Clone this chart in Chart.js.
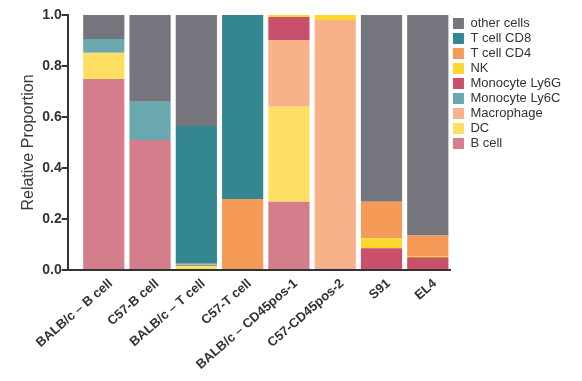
<!DOCTYPE html>
<html><head><meta charset="utf-8">
<script src="https://cdn.jsdelivr.net/npm/chart.js@4/dist/chart.umd.min.js"></script>
<style>html,body{margin:0;padding:0;background:#fff}#wrap{width:582px;height:381px}</style>
</head><body><div id="wrap"><canvas id="c" width="582" height="381"></canvas></div>
<script>
const categories = ["BALB/c – B cell","C57-B cell","BALB/c – T cell","C57-T cell","BALB/c – CD45pos-1","C57-CD45pos-2","S91","EL4"];
const bCell      = [0.749,0.510,0.000,0.000,0.268,0.006,0.000,0.000];
const dc         = [0.103,0.000,0.015,0.000,0.372,0.000,0.000,0.000];
const macrophage = [0.000,0.000,0.000,0.000,0.262,0.974,0.000,0.000];
const ly6c       = [0.054,0.150,0.006,0.000,0.000,0.000,0.000,0.000];
const ly6g       = [0.000,0.000,0.000,0.000,0.090,0.000,0.085,0.050];
const nk         = [0.000,0.000,0.000,0.000,0.008,0.020,0.040,0.005];
const cd4        = [0.000,0.000,0.004,0.278,0.000,0.000,0.143,0.080];
const cd8        = [0.000,0.000,0.540,0.722,0.000,0.000,0.000,0.000];
const other      = [0.094,0.340,0.435,0.000,0.000,0.000,0.732,0.865];
const yTicks = [0,0.2,0.4,0.6,0.8,1.0];

const series = [
  ["B cell", bCell, "#d47d8b"],
  ["DC", dc, "#fde063"],
  ["Macrophage", macrophage, "#f8b188"],
  ["Monocyte Ly6C", ly6c, "#68a8ae"],
  ["Monocyte Ly6G", ly6g, "#c8506a"],
  ["NK", nk, "#fcd82e"],
  ["T cell CD4", cd4, "#f69a58"],
  ["T cell CD8", cd8, "#348791"],
  ["other cells", other, "#75767d"]
];
const datasets = series.map(([label, vals, color]) => ({
  label, backgroundColor: color, borderWidth: 0,
  data: vals.map((v, i) => ({x: i, y: v})),
  barPercentage: 0.89, categoryPercentage: 1.0
}));
const font = "'Liberation Sans', Arial, sans-serif";
new Chart(document.getElementById('c'), {
  type: 'bar',
  data: { datasets },
  options: {
    responsive: false, animation: false,
    layout: { padding: { top: 15, right: 11, left: 19, bottom: 0 } },
    plugins: {
      tooltip: { enabled: false },
      legend: {
        position: 'right', align: 'start', reverse: true,
        labels: { boxWidth: 11, boxHeight: 11, padding: 2, color: '#333',
          font: { family: font, size: 13 } }
      }
    },
    scales: {
      x: {
        type: 'linear', stacked: true, min: -0.78, max: 7.5, offset: false,
        grid: { display: false, drawTicks: false },
        border: { display: true, color: '#333', width: 2 },
        afterFit: s => { s.height = 111; },
        ticks: {
          stepSize: 1, includeBounds: false, autoSkip: false, padding: 6, labelOffset: 7,
          maxRotation: 41, minRotation: 41, color: '#333',
          font: { family: font, size: 13, weight: 'bold' },
          callback: v => Number.isInteger(v) && categories[v] !== undefined ? categories[v] : ''
        }
      },
      y: {
        stacked: true, min: 0, max: 1,
        afterBuildTicks: s => { s.ticks = yTicks.map(v => ({value: v})); },
        grid: { display: true, drawOnChartArea: false, drawTicks: true, tickLength: 6, color: '#333', lineWidth: 2 },
        border: { display: true, color: '#333', width: 2 },
        ticks: { color: '#333', padding: 0, font: { family: font, size: 14, weight: 'bold' },
          callback: v => Number(v).toFixed(1) },
        title: { display: true, text: 'Relative Proportion', color: '#3a3a3a',
          font: { family: font, size: 16 }, padding: { top: 0, bottom: 4 } }
      }
    }
  }
});
</script></body></html>
